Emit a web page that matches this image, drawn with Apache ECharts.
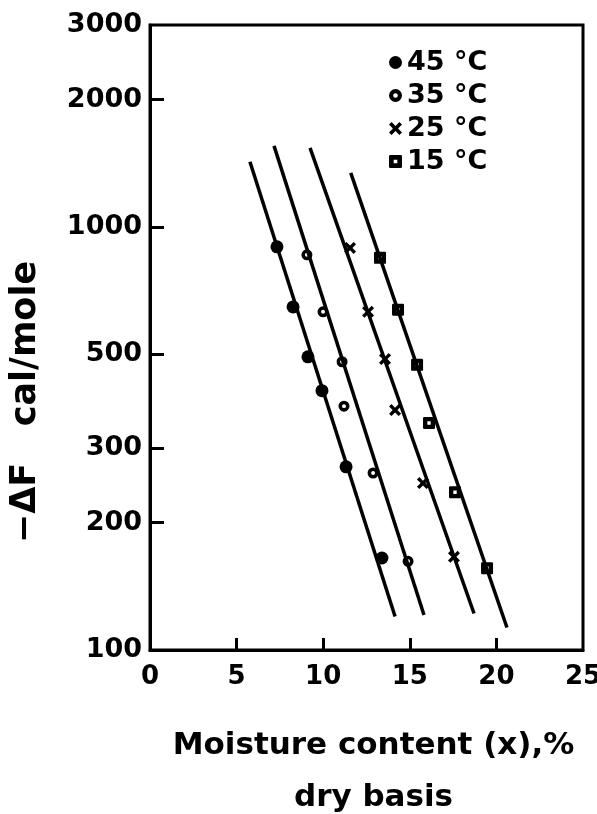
<!DOCTYPE html>
<html>
<head>
<meta charset="utf-8">
<script src="https://cdn.jsdelivr.net/npm/echarts@6/dist/echarts.min.js"></script>
<style>
  html, body { margin: 0; padding: 0; background: #fff; }
  #contain { width: 597px; height: 814px; }
</style>
</head>
<body>
<div id="contain"></div>
<script>
/* 数据：含水率 (%) 与 -ΔF (cal/mole) */
var names = ['45 °C', '35 °C', '25 °C', '15 °C'];

var x45 = [7.33, 8.26, 9.12, 9.93, 11.32, 13.39];
var y45 = [897, 647, 493, 410, 271, 165];
var x35 = [9.06, 9.99, 11.09, 11.20, 12.88, 14.90];
var y35 = [859, 630, 480, 377, 262, 162];
var x25 = [11.55, 12.59, 13.57, 14.15, 15.76, 17.55];
var y25 = [892, 630, 487, 369, 248, 166];
var x15 = [13.28, 14.32, 15.42, 16.11, 17.61, 19.46];
var y15 = [845, 637, 472, 344, 236, 156];

/* 拟合直线两端 */
var fitX = [[5.77, 14.15], [7.16, 15.82], [9.24, 18.71], [11.59, 20.61]];
var fitY = [[1425, 120], [1554, 121], [1537, 122], [1342, 113]];

var xTicks = [5, 10, 15, 20];
var xLabels = [0, 5, 10, 15, 20, 25];
var yTicks = [200, 300, 500, 1000, 2000];
var yLabels = [100, 200, 300, 500, 1000, 2000, 3000];

var font = 'DejaVu Sans';
/* 符号：实心圆、圆环、叉、带孔方块 */
var crossIcon = 'path://M0,2 L2,0 L5,3 L8,0 L10,2 L7,5 L10,8 L8,10 L5,7 L2,10 L0,8 L3,5 Z';
var ringIcon = 'path://M5,0 A5,5 0 1,1 5,10 A5,5 0 1,1 5,0 Z M5,3.2 A1.8,1.8 0 1,0 5,6.8 A1.8,1.8 0 1,0 5,3.2 Z';
var boxIcon = 'path://M1,0 L9,0 Q10,0 10,1 L10,9 Q10,10 9,10 L1,10 Q0,10 0,9 L0,1 Q0,0 1,0 Z M3.6,3.6 L3.6,6.4 L6.4,6.4 L6.4,3.6 Z';

function pairs(xs, ys) {
    var out = [];
    for (var i = 0; i < xs.length; i++) {
        out.push([xs[i], ys[i]]);
    }
    return out;
}

var pointSeries = [
    { data: pairs(x45, y45), symbol: 'circle', symbolSize: 13 },
    { data: pairs(x35, y35), symbol: ringIcon, symbolSize: 11 },
    { data: pairs(x25, y25), symbol: crossIcon, symbolSize: 12 },
    { data: pairs(x15, y15), symbol: boxIcon, symbolSize: 12 }
];

var series = [];
for (var k = 0; k < 4; k++) {
    series.push({
        type: 'line',
        data: pairs(fitX[k], fitY[k]),
        symbol: 'none',
        silent: true,
        lineStyle: { color: '#000', width: 3.5 },
        z: 2
    });
}
for (var j = 0; j < 4; j++) {
    series.push({
        name: names[j],
        type: 'scatter',
        data: pointSeries[j].data,
        symbol: pointSeries[j].symbol,
        symbolSize: pointSeries[j].symbolSize,
        itemStyle: { color: '#000', opacity: 1 },
        z: 3
    });
}

var myChart = echarts.init(document.getElementById('contain'));
myChart.setOption({
    animation: false,
    backgroundColor: '#fff',
    grid: {
        left: 150,
        top: 25,
        right: 14,
        bottom: 164,
        outerBoundsMode: 'none',
        containLabel: false,
        show: true,
        borderColor: '#000',
        borderWidth: 3
    },
    legend: {
        data: names,
        orient: 'vertical',
        left: 384,
        top: 44,
        itemGap: 6,
        itemWidth: 13,
        itemHeight: 13,
        textStyle: { fontFamily: font, fontWeight: 'bold', fontSize: 27, color: '#000' }
    },
    xAxis: {
        type: 'value',
        min: 0,
        max: 25,
        interval: 5,
        name: 'Moisture content (x),%\ndry basis',
        nameLocation: 'middle',
        nameGap: 70,
        nameTextStyle: { fontFamily: font, fontWeight: 'bold', fontSize: 31, color: '#000', lineHeight: 52, align: 'center', verticalAlign: 'top', padding: [0, 0, 0, 14] },
        axisLine: { lineStyle: { color: '#000', width: 3 } },
        axisTick: { inside: true, length: 12, customValues: xTicks, lineStyle: { color: '#000', width: 3 } },
        axisLabel: { customValues: xLabels, margin: 14, fontFamily: font, fontWeight: 'bold', fontSize: 26, color: '#000' },
        splitLine: { show: false }
    },
    yAxis: {
        type: 'log',
        min: 100,
        max: 3000,
        axisLine: { lineStyle: { color: '#000', width: 3 } },
        axisTick: { inside: true, length: 14, customValues: yTicks, lineStyle: { color: '#000', width: 3 } },
        axisLabel: {
            customValues: yLabels,
            margin: 8,
            fontFamily: font,
            fontWeight: 'bold',
            fontSize: 27,
            color: '#000',
            formatter: function (v) { return String(Math.round(v)); }
        },
        splitLine: { show: false },
        minorTick: { show: false }
    },
    graphic: [{
        type: 'text',
        x: 26,
        y: 402,
        rotation: Math.PI / 2,
        style: {
            text: '−ΔF   cal/mole',
            font: 'bold 35px "DejaVu Sans"',
            fill: '#000',
            align: 'center',
            verticalAlign: 'middle'
        }
    }],
    series: series
});
</script>
</body>
</html>
